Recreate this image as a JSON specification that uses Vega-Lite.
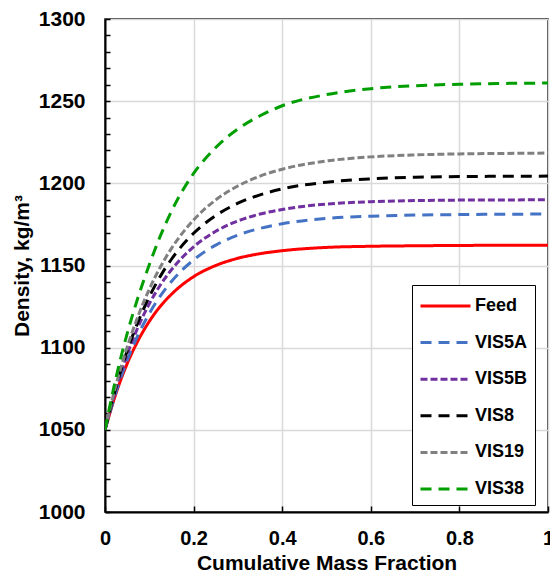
{
  "$schema": "https://vega.github.io/schema/vega-lite/v6.json",
  "width": 443,
  "height": 493,
  "autosize": {"type": "none"},
  "padding": {"left": 105, "top": 19, "right": 2, "bottom": 64},
  "config": {
    "font": "Liberation Sans",
    "view": {"stroke": "black", "strokeWidth": 1.5},
    "axis": {
      "domainColor": "black",
      "domainWidth": 2,
      "tickColor": "black",
      "tickWidth": 1.5,
      "gridColor": "#D9D9D9",
      "gridWidth": 1.5,
      "labelFont": "Liberation Sans",
      "labelFontWeight": "bold",
      "labelFontSize": 20,
      "labelColor": "black",
      "titleFont": "Liberation Sans",
      "titleFontWeight": "bold",
      "titleColor": "black"
    }
  },
  "data": {
    "values": [
      {"x": 0, "d": 1050, "s": "Feed"}, {"x": 0.025, "d": 1072.3, "s": "Feed"}, {"x": 0.05, "d": 1090.2, "s": "Feed"}, {"x": 0.075, "d": 1104.5, "s": "Feed"}, {"x": 0.1, "d": 1116.0, "s": "Feed"}, {"x": 0.125, "d": 1125.2, "s": "Feed"}, {"x": 0.15, "d": 1132.5, "s": "Feed"}, {"x": 0.2, "d": 1143.2, "s": "Feed"}, {"x": 0.25, "d": 1150.0, "s": "Feed"}, {"x": 0.3, "d": 1154.4, "s": "Feed"}, {"x": 0.35, "d": 1157.2, "s": "Feed"}, {"x": 0.4, "d": 1159.0, "s": "Feed"}, {"x": 0.5, "d": 1161.0, "s": "Feed"}, {"x": 0.6, "d": 1161.7, "s": "Feed"}, {"x": 0.7, "d": 1162.0, "s": "Feed"}, {"x": 0.8, "d": 1162.2, "s": "Feed"}, {"x": 0.9, "d": 1162.3, "s": "Feed"}, {"x": 1.0, "d": 1162.3, "s": "Feed"},
      {"x": 0, "d": 1050, "s": "VIS5A"}, {"x": 0.025, "d": 1073.1, "s": "VIS5A"}, {"x": 0.05, "d": 1092.2, "s": "VIS5A"}, {"x": 0.075, "d": 1107.9, "s": "VIS5A"}, {"x": 0.1, "d": 1120.8, "s": "VIS5A"}, {"x": 0.125, "d": 1131.5, "s": "VIS5A"}, {"x": 0.15, "d": 1140.3, "s": "VIS5A"}, {"x": 0.2, "d": 1153.4, "s": "VIS5A"}, {"x": 0.25, "d": 1162.4, "s": "VIS5A"}, {"x": 0.3, "d": 1168.5, "s": "VIS5A"}, {"x": 0.35, "d": 1172.6, "s": "VIS5A"}, {"x": 0.4, "d": 1175.4, "s": "VIS5A"}, {"x": 0.5, "d": 1178.6, "s": "VIS5A"}, {"x": 0.6, "d": 1180.0, "s": "VIS5A"}, {"x": 0.7, "d": 1180.7, "s": "VIS5A"}, {"x": 0.8, "d": 1181.0, "s": "VIS5A"}, {"x": 0.9, "d": 1181.2, "s": "VIS5A"}, {"x": 1.0, "d": 1181.3, "s": "VIS5A"},
      {"x": 0, "d": 1050, "s": "VIS5B"}, {"x": 0.025, "d": 1075.2, "s": "VIS5B"}, {"x": 0.05, "d": 1095.9, "s": "VIS5B"}, {"x": 0.075, "d": 1112.8, "s": "VIS5B"}, {"x": 0.1, "d": 1126.7, "s": "VIS5B"}, {"x": 0.125, "d": 1138.1, "s": "VIS5B"}, {"x": 0.15, "d": 1147.4, "s": "VIS5B"}, {"x": 0.2, "d": 1161.4, "s": "VIS5B"}, {"x": 0.25, "d": 1170.8, "s": "VIS5B"}, {"x": 0.3, "d": 1177.1, "s": "VIS5B"}, {"x": 0.35, "d": 1181.3, "s": "VIS5B"}, {"x": 0.4, "d": 1184.1, "s": "VIS5B"}, {"x": 0.5, "d": 1187.4, "s": "VIS5B"}, {"x": 0.6, "d": 1188.8, "s": "VIS5B"}, {"x": 0.7, "d": 1189.5, "s": "VIS5B"}, {"x": 0.8, "d": 1189.8, "s": "VIS5B"}, {"x": 0.9, "d": 1189.9, "s": "VIS5B"}, {"x": 1.0, "d": 1190.0, "s": "VIS5B"},
      {"x": 0, "d": 1050, "s": "VIS8"}, {"x": 0.025, "d": 1076.2, "s": "VIS8"}, {"x": 0.05, "d": 1098.0, "s": "VIS8"}, {"x": 0.075, "d": 1116.0, "s": "VIS8"}, {"x": 0.1, "d": 1131.0, "s": "VIS8"}, {"x": 0.125, "d": 1143.5, "s": "VIS8"}, {"x": 0.15, "d": 1153.8, "s": "VIS8"}, {"x": 0.2, "d": 1169.6, "s": "VIS8"}, {"x": 0.25, "d": 1180.4, "s": "VIS8"}, {"x": 0.3, "d": 1187.9, "s": "VIS8"}, {"x": 0.35, "d": 1193.0, "s": "VIS8"}, {"x": 0.4, "d": 1196.6, "s": "VIS8"}, {"x": 0.5, "d": 1200.7, "s": "VIS8"}, {"x": 0.6, "d": 1202.7, "s": "VIS8"}, {"x": 0.7, "d": 1203.7, "s": "VIS8"}, {"x": 0.8, "d": 1204.1, "s": "VIS8"}, {"x": 0.9, "d": 1204.3, "s": "VIS8"}, {"x": 1.0, "d": 1204.4, "s": "VIS8"},
      {"x": 0, "d": 1050, "s": "VIS19"}, {"x": 0.025, "d": 1077.4, "s": "VIS19"}, {"x": 0.05, "d": 1100.3, "s": "VIS19"}, {"x": 0.075, "d": 1119.5, "s": "VIS19"}, {"x": 0.1, "d": 1135.6, "s": "VIS19"}, {"x": 0.125, "d": 1149.1, "s": "VIS19"}, {"x": 0.15, "d": 1160.4, "s": "VIS19"}, {"x": 0.2, "d": 1177.7, "s": "VIS19"}, {"x": 0.25, "d": 1189.9, "s": "VIS19"}, {"x": 0.3, "d": 1198.4, "s": "VIS19"}, {"x": 0.35, "d": 1204.4, "s": "VIS19"}, {"x": 0.4, "d": 1208.6, "s": "VIS19"}, {"x": 0.5, "d": 1213.6, "s": "VIS19"}, {"x": 0.6, "d": 1216.1, "s": "VIS19"}, {"x": 0.7, "d": 1217.3, "s": "VIS19"}, {"x": 0.8, "d": 1217.9, "s": "VIS19"}, {"x": 0.9, "d": 1218.2, "s": "VIS19"}, {"x": 1.0, "d": 1218.4, "s": "VIS19"},
      {"x": 0, "d": 1050, "s": "VIS38"}, {"x": 0.025, "d": 1082.0, "s": "VIS38"}, {"x": 0.05, "d": 1108.5, "s": "VIS38"}, {"x": 0.075, "d": 1131.0, "s": "VIS38"}, {"x": 0.1, "d": 1150.5, "s": "VIS38"}, {"x": 0.125, "d": 1168.0, "s": "VIS38"}, {"x": 0.15, "d": 1183.0, "s": "VIS38"}, {"x": 0.2, "d": 1206.0, "s": "VIS38"}, {"x": 0.25, "d": 1221.8, "s": "VIS38"}, {"x": 0.3, "d": 1233.1, "s": "VIS38"}, {"x": 0.35, "d": 1241.1, "s": "VIS38"}, {"x": 0.4, "d": 1247.2, "s": "VIS38"}, {"x": 0.5, "d": 1254.0, "s": "VIS38"}, {"x": 0.6, "d": 1257.6, "s": "VIS38"}, {"x": 0.7, "d": 1259.4, "s": "VIS38"}, {"x": 0.8, "d": 1260.3, "s": "VIS38"}, {"x": 0.9, "d": 1260.8, "s": "VIS38"}, {"x": 1.0, "d": 1261.0, "s": "VIS38"}
    ]
  },
  "mark": {"type": "line", "strokeWidth": 3, "interpolate": "monotone", "clip": true},
  "encoding": {
    "x": {
      "field": "x", "type": "quantitative",
      "scale": {"domain": [0, 1], "nice": false, "zero": false},
      "axis": {
        "title": "Cumulative Mass Fraction",
        "values": [0, 0.2, 0.4, 0.6, 0.8, 1],
        "format": "~g",
        "tickSize": -6,
        "labelPadding": 22,
        "titleFontSize": 21,
        "titlePadding": 4,
        "grid": true,
        "labelFlush": false,
        "labelOverlap": false
      }
    },
    "y": {
      "field": "d", "type": "quantitative",
      "scale": {"domain": [1000, 1300], "nice": false, "zero": false},
      "axis": {
        "title": "Density, kg/m³",
        "values": [1000, 1010, 1020, 1030, 1040, 1050, 1060, 1070, 1080, 1090, 1100, 1110, 1120, 1130, 1140, 1150, 1160, 1170, 1180, 1190, 1200, 1210, 1220, 1230, 1240, 1250, 1260, 1270, 1280, 1290, 1300],
        "labelExpr": "datum.value % 50 == 0 ? datum.label : ''",
        "format": "d",
        "tickSize": -5,
        "labelPadding": 25,
        "labelFontSize": 21,
        "labelOverlap": false,
        "labelFlush": false,
        "titleFontSize": 21,
        "titlePadding": 6,
        "grid": true,
        "gridOpacity": {"condition": {"test": "datum.value % 50 == 0", "value": 1}, "value": 0}
      }
    },
    "color": {
      "field": "s", "type": "nominal",
      "scale": {
        "domain": ["Feed", "VIS5A", "VIS5B", "VIS8", "VIS19", "VIS38"],
        "range": ["#FF0000", "#4472C4", "#7030A0", "#000000", "#808080", "#009E00"]
      },
      "legend": {
        "title": null, "orient": "none", "legendX": 307, "legendY": 266,
        "symbolType": "M-1,0L3,0", "symbolSize": 625, "symbolStrokeWidth": 3,
        "labelFont": "Liberation Sans", "labelFontSize": 18, "labelFontWeight": "bold", "labelColor": "black",
        "strokeColor": "black", "fillColor": "white", "padding": 7, "rowPadding": 13.6, "labelOffset": 28
      }
    },
    "strokeDash": {
      "field": "s", "type": "nominal",
      "scale": {
        "domain": ["Feed", "VIS5A", "VIS5B", "VIS8", "VIS19", "VIS38"],
        "range": [[1, 0], [11, 7], [7, 3], [11, 7], [7, 3], [11, 7]]
      },
      "legend": {
        "title": null, "orient": "none", "legendX": 307, "legendY": 266,
        "symbolType": "M-1,0L3,0", "symbolSize": 625, "symbolStrokeWidth": 3,
        "labelFont": "Liberation Sans", "labelFontSize": 18, "labelFontWeight": "bold", "labelColor": "black",
        "strokeColor": "black", "fillColor": "white", "padding": 7, "rowPadding": 13.6, "labelOffset": 28
      }
    }
  }
}
